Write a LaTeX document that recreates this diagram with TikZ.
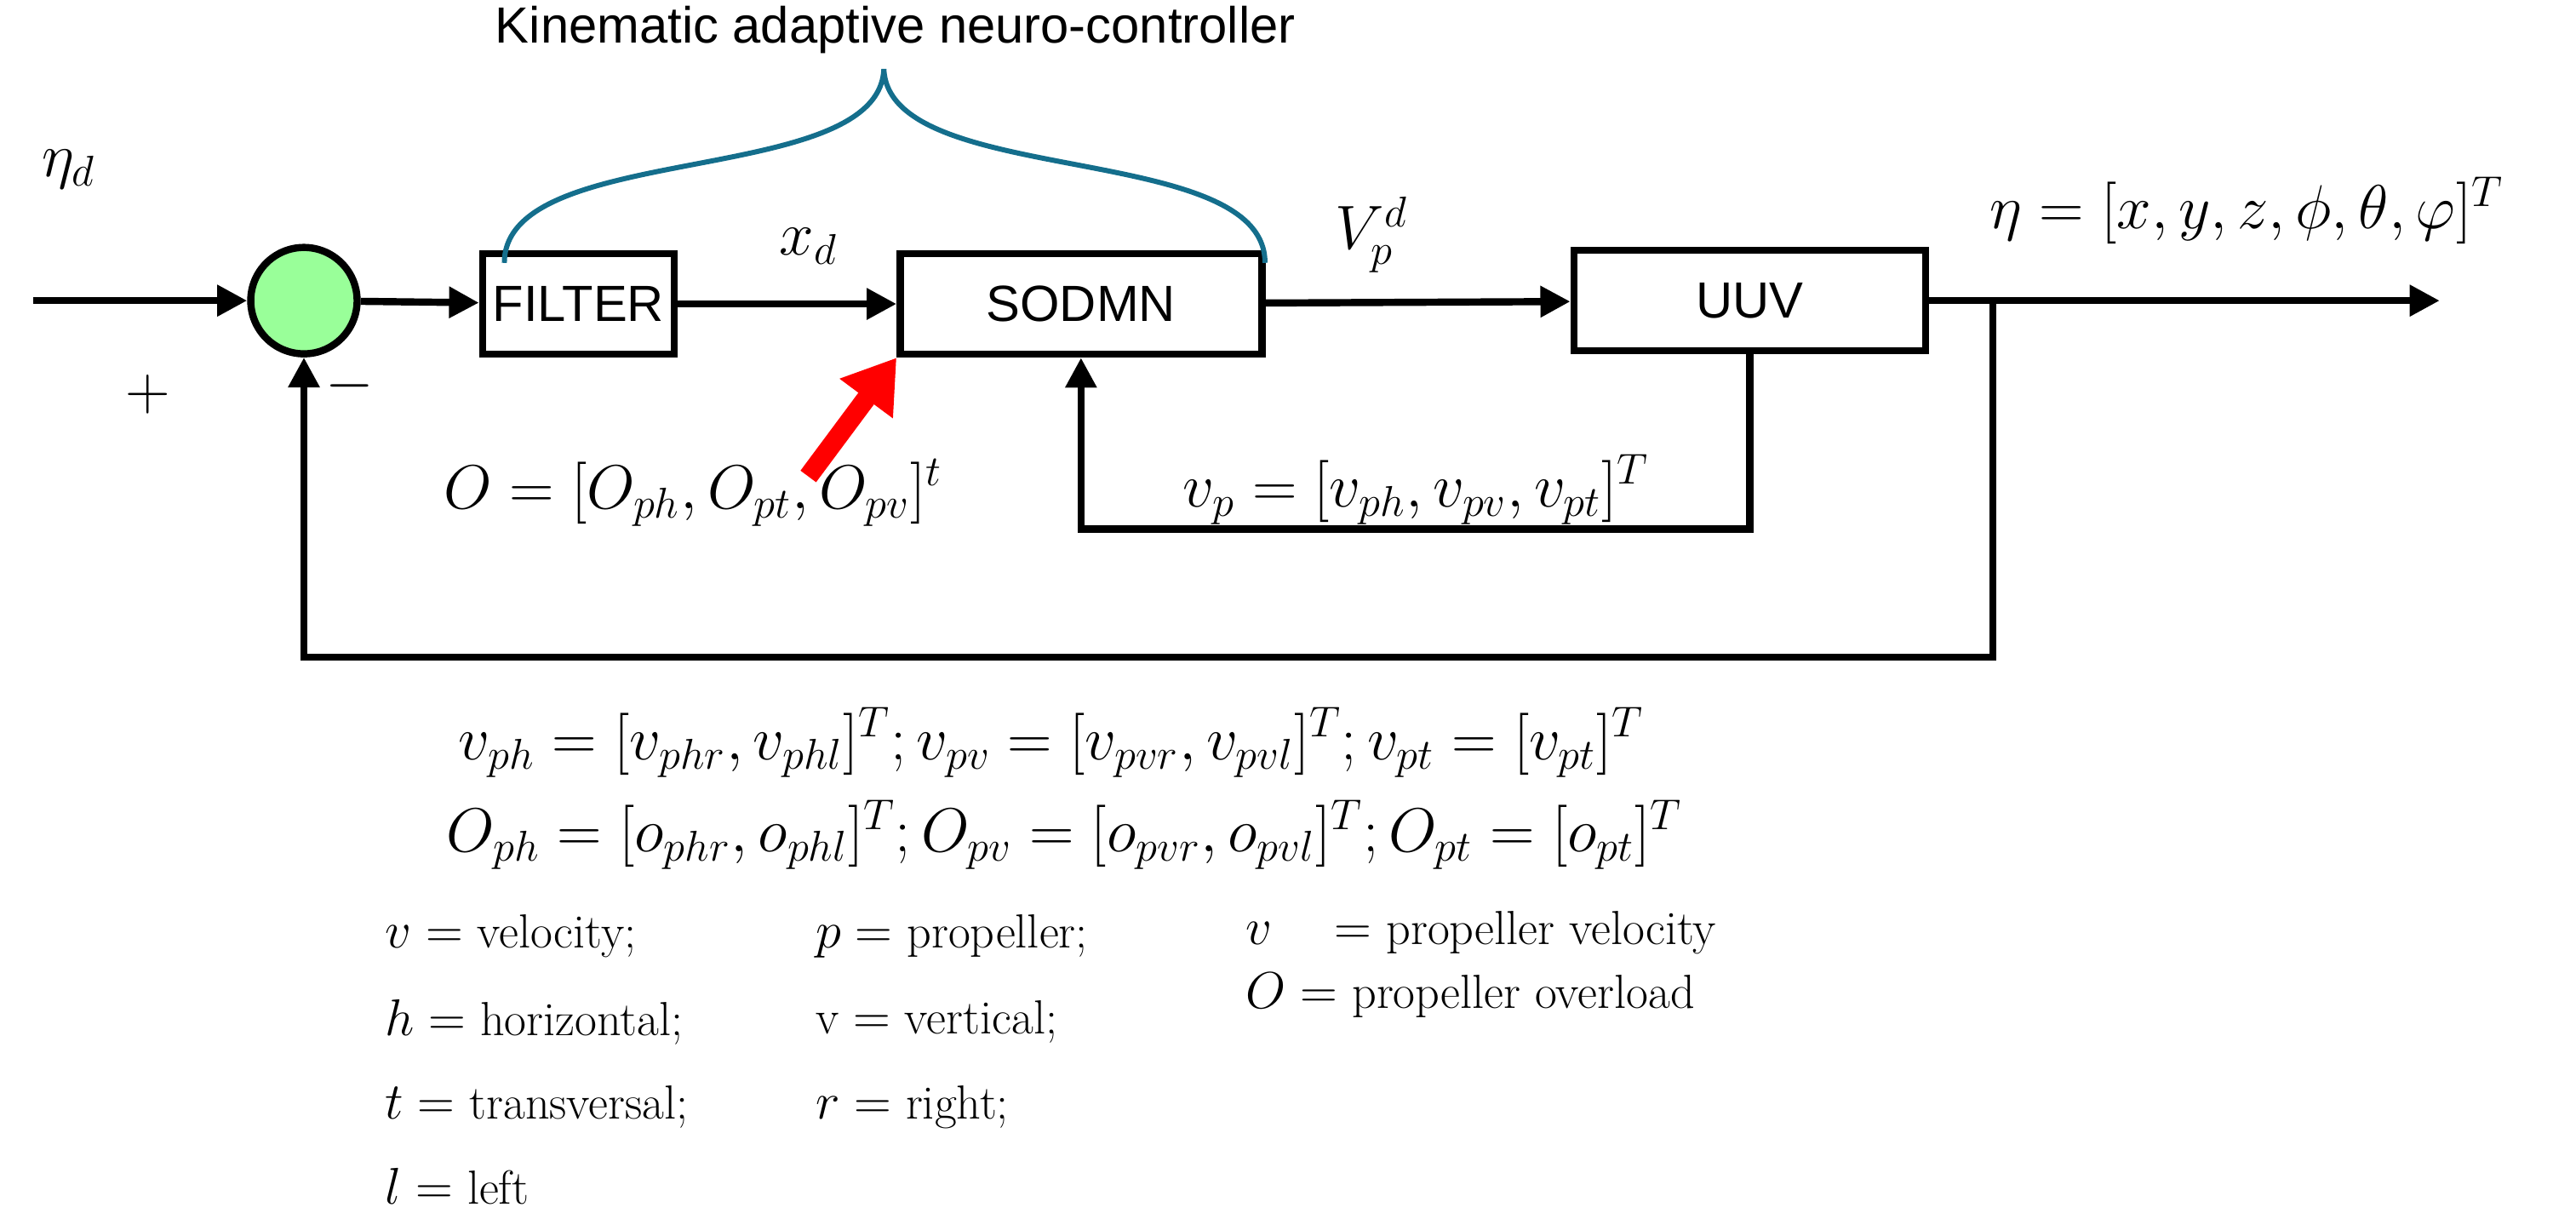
\documentclass[tikz,border=0pt]{standalone}
\usepackage{fontspec}
\setsansfont{Liberation Sans}
\usetikzlibrary{positioning,arrows.meta}

\tikzset{
  blk/.style = {draw, line width=2.4pt, minimum height=1.18cm, font=\sffamily\fontsize{17}{20}\selectfont},
  wire/.style = {line width=2.4pt, -{Triangle[length=10pt,width=10pt]}},
  lbl/.style = {font=\fontsize{21}{25}\selectfont},
  leg/.style = {anchor=west, font=\fontsize{16}{19}\selectfont}
}

\begin{document}
\begin{tikzpicture}[x=0.0193cm, y=-0.0193cm]
  \useasboundingbox (0,0) rectangle (1568,742);
  % main path
  \node[draw, circle, fill=green!40!white, line width=2.4pt, minimum size=1.25cm] (sum) at (185,183) {};
  \node[blk, minimum width=2.25cm] (filter) at (352,185) {FILTER};
  \node[blk, minimum width=4.25cm] (sodmn) at (658,185) {SODMN};
  \node[blk, minimum width=4.13cm] (uuv) at (1065,183) {UUV};
  \coordinate (in) at (20,183);
  \coordinate (out) at (1485,183);
  \coordinate (tap) at (1213,183);
  \draw[wire] (in) -- (sum);
  \draw[wire] (sum) -- (filter);
  \draw[wire] (filter) -- (sodmn);
  \draw[wire] (sodmn) -- (uuv);
  \draw[wire] (uuv) -- (out);
  % feedback loops
  \draw[wire] (tap) -- (1213,400) -| (sum);
  \draw[wire] (uuv.south) -- (1065,322) -| (sodmn.south);
  % red arrow
  \coordinate (ostart) at (492,290);
  \draw[red, line width=6.5pt, -{Triangle[length=17pt,width=21pt]}] (ostart) -- (sodmn.south west);
  % brace
  \draw[color={rgb,255:red,20;green,110;blue,140}, line width=1.7pt]
    (307,160) .. controls (307,85) and (535,115) .. (538,42)
    .. controls (541,115) and (770,85) .. (770,160);
  \node[font=\sffamily\fontsize{17}{20}\selectfont] (title) at (545,18) {Kinematic adaptive neuro-controller};
  % labels
  \node[lbl] (etad) at (42,103) {$\eta_d$};
  \node[lbl] (plus) at (90,240) {$+$};
  \node[lbl] (minus) at (213,235) {$-$};
  \node[lbl] (xd) at (492,150) {$x_d$};
  \node[lbl] (vpd) at (835,143) {$V_p^d$};
  \node[lbl, anchor=west] (eta) at (1205,128) {$\eta=[x,y,z,\phi,\theta,\varphi]^T$};
  \node[lbl] (olab) at (422,300) {$O=[O_{ph},O_{pt},O_{pv}]^t$};
  \node[lbl] (vplab) at (862,298) {$v_p=[v_{ph},v_{pv},v_{pt}]^T$};
  \node[lbl, font=\fontsize{21.5}{25}\selectfont] (eq1) at (640,452) {$v_{ph}=[v_{phr},v_{phl}]^T;v_{pv}=[v_{pvr},v_{pvl}]^T;v_{pt}=[v_{pt}]^T$};
  \node[lbl, font=\fontsize{21.5}{25}\selectfont] (eq2) at (648,508) {$O_{ph}=[o_{phr},o_{phl}]^T;O_{pv}=[o_{pvr},o_{pvl}]^T;O_{pt}=[o_{pt}]^T$};
  % legend
  \node[leg] (l1) at (228,570) {$v=$ velocity;};
  \node[leg] (l2) at (228,622) {$h=$ horizontal;};
  \node[leg] (l3) at (228,674) {$t=$ transversal;};
  \node[leg] (l4) at (228,722) {$l=$ left};
  \node[leg] (l5) at (490,570) {$p=$ propeller;};
  \node[leg] (l6) at (490,622) {v $=$ vertical;};
  \node[leg] (l7) at (490,674) {$r=$ right;};
  \node[leg] (l8) at (752,568) {$v\quad=$ propeller velocity};
  \node[leg] (l9) at (752,606) {$O=$ propeller overload};
\end{tikzpicture}
\end{document}
